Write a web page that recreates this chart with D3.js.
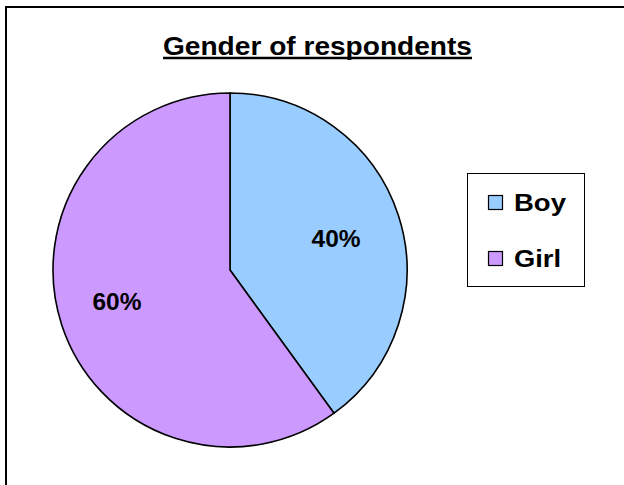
<!DOCTYPE html>
<html>
<head>
<meta charset="utf-8">
<script src="https://cdn.jsdelivr.net/npm/d3@7"></script>
<style>
  html, body { margin: 0; padding: 0; background: #fff; }
  svg { display: block; }
  text { font-family: "Liberation Sans", Arial, sans-serif; font-weight: bold; }
</style>
</head>
<body>
<script>
const title = "Gender of respondents";
const categories = ["Boy", "Girl"];
const values = [40, 60];
const colors = ["#99CCFF", "#CC99FF"];

const W = 624, H = 485;
const svg = d3.select("body").append("svg").attr("width", W).attr("height", H);

// outer chart border (extends past the right/bottom edges)
svg.append("rect")
  .attr("x", 6).attr("y", 7)
  .attr("width", 640).attr("height", 500)
  .attr("fill", "#fff").attr("stroke", "#000").attr("stroke-width", 2);

// title
svg.append("text")
  .attr("x", 317.5).attr("y", 54.5)
  .attr("text-anchor", "middle")
  .attr("font-size", 26)
  .attr("textLength", 309).attr("lengthAdjust", "spacingAndGlyphs")
  .attr("fill", "#000")
  .text(title);
svg.append("line")
  .attr("x1", 317.5 - 154.5).attr("x2", 317.5 + 154.5)
  .attr("y1", 58).attr("y2", 58)
  .attr("stroke", "#000").attr("stroke-width", 2.6);

// pie
const cx = 230, cy = 270, R = 177;
const total = d3.sum(values);
const data = categories.map((c, i) => ({ cat: c, value: values[i], color: colors[i] }));
const pie = d3.pie().sort(null).value(d => d.value);
const arc = d3.arc().innerRadius(0).outerRadius(R);
const labelArc = d3.arc().innerRadius(114).outerRadius(114);
const g = svg.append("g").attr("transform", `translate(${cx},${cy})`);
const arcs = pie(data);
g.selectAll("path").data(arcs).join("path")
  .attr("d", arc)
  .attr("fill", d => d.data.color)
  .attr("stroke", "#000").attr("stroke-width", 1.6)
  .attr("stroke-linejoin", "round");
const shift = 0.035;
g.selectAll("text.lbl").data(arcs).join("text")
  .attr("class", "lbl")
  .attr("transform", d => {
    const [x, y] = labelArc.centroid({ startAngle: d.startAngle + shift, endAngle: d.endAngle + shift });
    return `translate(${x - 3.5},${y})`;
  })
  .attr("text-anchor", "middle")
  .attr("dy", "0.36em")
  .attr("font-size", 24.5)
  .attr("textLength", 49).attr("lengthAdjust", "spacingAndGlyphs")
  .attr("fill", "#000")
  .text(d => Math.round(d.data.value / total * 100) + "%");

// legend
const lg = svg.append("g");
lg.append("rect")
  .attr("x", 467.5).attr("y", 173.5).attr("width", 117).attr("height", 113)
  .attr("fill", "#fff").attr("stroke", "#000").attr("stroke-width", 1);
const rowY = d3.scalePoint().domain(categories).range([202.5, 258.5]);
const legendWidths = [52, 47];
categories.forEach((c, i) => {
  lg.append("rect")
    .attr("x", 488.5).attr("y", rowY(c) - 7).attr("width", 14).attr("height", 14)
    .attr("fill", colors[i]).attr("stroke", "#000").attr("stroke-width", 1.2);
  lg.append("text")
    .attr("x", 514).attr("y", rowY(c)).attr("dy", "0.36em")
    .attr("font-size", 24.5)
    .attr("textLength", legendWidths[i]).attr("lengthAdjust", "spacingAndGlyphs")
    .attr("fill", "#000")
    .text(c);
});
</script>
</body>
</html>
